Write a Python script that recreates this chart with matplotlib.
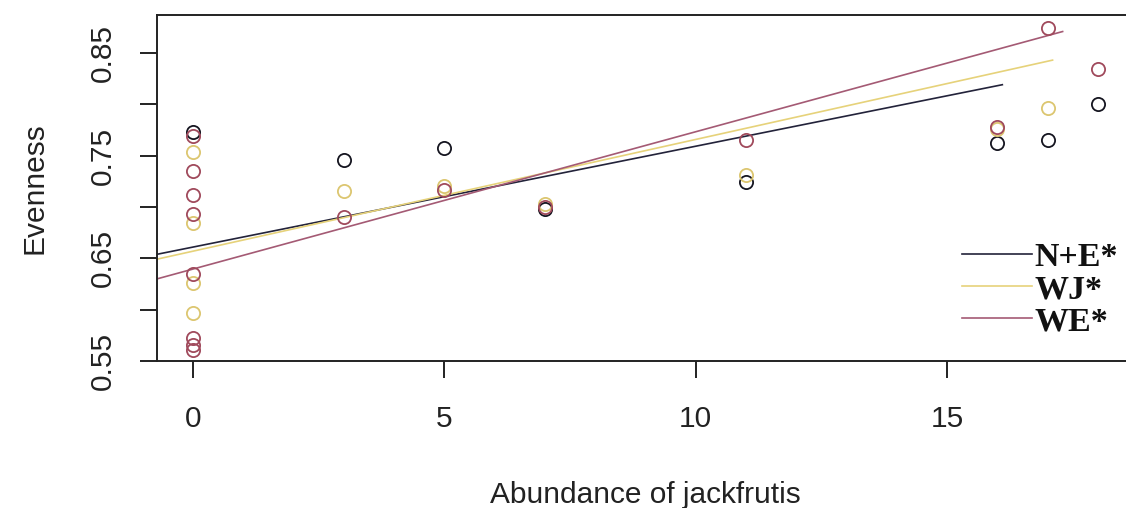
import matplotlib
matplotlib.use("Agg")
import matplotlib.pyplot as plt

# ---- data ----
ne_x = [0, 3, 5, 7, 11, 16, 17, 18]
ne_y = [0.773, 0.746, 0.757, 0.698, 0.724, 0.762, 0.765, 0.800]

wj_x = [0, 0, 0, 0, 3, 5, 7, 11, 16, 17]
wj_y = [0.754, 0.684, 0.626, 0.597, 0.716, 0.720, 0.703, 0.731, 0.776, 0.796]

we_x = [0, 0, 0, 0, 0, 0, 0, 0, 3, 5, 7, 11, 16, 17, 18]
we_y = [0.769, 0.735, 0.712, 0.693, 0.635, 0.572, 0.566, 0.561,
        0.690, 0.717, 0.700, 0.765, 0.778, 0.874, 0.834]

groups = ["N+E*", "WJ*", "WE*"]
intercepts = [0.661, 0.657, 0.6396]
slopes = [0.00982, 0.01088, 0.01337]
line_start = [-0.72, -0.72, -0.72]
line_end = [16.1, 17.1, 17.3]

xticks = [0, 5, 10, 15]
yticks = [0.55, 0.60, 0.65, 0.70, 0.75, 0.80, 0.85]
ytick_labels = ["0.55", "", "0.65", "", "0.75", "", "0.85"]

# ---- style ----
pt_cols = ["#151520", "#dcc670", "#a04a5c"]
ln_cols = ["#23233a", "#e6d27a", "#a45a74"]
txt_col = "#222222"

fig = plt.figure(figsize=(11.26, 5.08), dpi=100)
W, H = 1126, 508
left, right, bottom, top = 157, 1134, 361, 15
ax = fig.add_axes([left / W, 1 - bottom / H, (right - left) / W, (bottom - top) / H])

series = [(ne_x, ne_y), (wj_x, wj_y), (we_x, we_y)]
for (xs, ys), c in zip(series, pt_cols):
    ax.plot(xs, ys, linestyle="none", marker="o", markersize=9.5,
            markerfacecolor="none", markeredgecolor=c, markeredgewidth=1.3,
            zorder=3)
handles = []
for i, g in enumerate(groups):
    xs = [line_start[i], line_end[i]]
    ys = [intercepts[i] + slopes[i] * v for v in xs]
    ln, = ax.plot(xs, ys, color=ln_cols[i], lw=1.2, zorder=2, label=g)
    handles.append(ln)

ax.set_xlim(-0.72, 18.72)
ax.set_ylim(0.55, 0.887)
ax.set_xticks(xticks)
ax.set_xticklabels([str(v) for v in xticks])
ax.set_yticks(yticks)
ax.set_yticklabels(ytick_labels, rotation=90, va="center")

lab_font = dict(family="Liberation Sans", size=21.5, color=txt_col)
for lab in ax.get_xticklabels() + ax.get_yticklabels():
    lab.set_fontfamily("Liberation Sans")
    lab.set_fontsize(21.5)
    lab.set_color(txt_col)

ax.tick_params(axis="both", direction="out", length=12, width=1.4, color="#222222")
ax.tick_params(axis="x", pad=20)
ax.tick_params(axis="y", pad=17)
for s in ax.spines.values():
    s.set_linewidth(1.4)
    s.set_color("#222222")

ax.set_xlabel("Abundance of jackfrutis", fontdict=lab_font, labelpad=34)
ax.set_ylabel("Evenness", fontdict=lab_font, labelpad=29)

leg = ax.legend(handles=handles, labels=groups, loc="upper left",
                bbox_to_anchor=(962 / W, 1 - 242 / H), bbox_transform=fig.transFigure,
                frameon=False, borderpad=0, borderaxespad=0,
                handlelength=2.05, handletextpad=0.08, labelspacing=0.03,
                prop=dict(family="Liberation Serif", weight="bold", size=24.5))
for t in leg.get_texts():
    t.set_color("#111111")

fig.savefig("out.png", dpi=100)
